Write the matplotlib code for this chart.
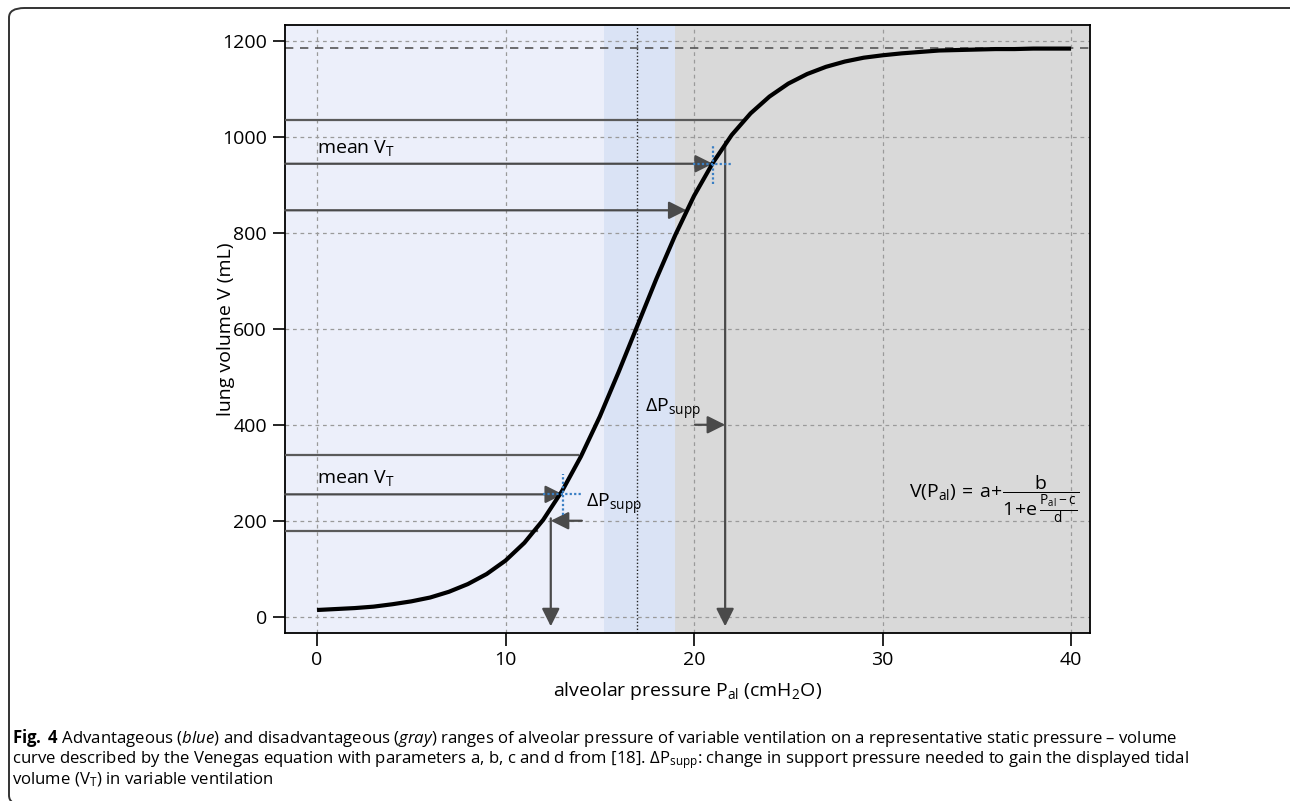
import matplotlib.pyplot as plt
from matplotlib.patches import FancyBboxPatch

plt.rcParams['font.family'] = ['Open Sans', 'DejaVu Sans']
plt.rcParams['mathtext.fontset'] = 'custom'
plt.rcParams['mathtext.rm'] = 'Open Sans'
plt.rcParams['mathtext.it'] = 'Open Sans:italic'
plt.rcParams['mathtext.bf'] = 'Open Sans:bold'

# pressure-volume curve
pressure = list(range(41))
volume = [14, 16, 18, 21, 26, 32, 40, 52, 68, 89, 117, 154, 202, 262, 334, 417,
          510, 607, 704, 795, 877, 946, 1004, 1049, 1084, 1111, 1131, 1146, 1157,
          1165, 1170, 1174, 1177, 1180, 1181, 1182, 1183, 1183, 1184, 1184, 1184]

plateau = 1185
p_optimal = 17
blue_range = (15.2, 19.0)

# lower (advantageous) example
low_lines = [(178, 11.65), (337, 13.85)]
low_mean = (13.05, 255)
low_dp = (14.05, 12.4, 200)
low_drop = (12.4, 205)

# upper (disadvantageous) example
up_lines = [(1035, 22.6)]
up_arrows = [(944, 21.0), (847, 19.6)]
up_mean = (21.0, 944)
up_dp = (20.05, 21.65, 400)
up_drop = (21.65, 990)

xmin, xmax = -1.7, 41.0
ymin, ymax = -34, 1233

fig = plt.figure(figsize=(12.9, 8.01), dpi=100)
ax = fig.add_axes([0.2209, 0.2097, 0.624, 0.759])

ax.axvspan(xmin, blue_range[0], color='#ECEFFA', zorder=0, lw=0)
ax.axvspan(blue_range[0], blue_range[1], color='#DAE3F5', zorder=0, lw=0)
ax.axvspan(blue_range[1], xmax, color='#D9D9D9', zorder=0, lw=0)

for gx in [0, 10, 20, 30, 40]:
    ax.axvline(gx, color='#9A9A9A', lw=0.9, ls=(0, (3, 3)), zorder=1)
for gy in range(0, 1201, 200):
    ax.axhline(gy, color='#9A9A9A', lw=0.9, ls=(0, (3, 3)), zorder=1)

ax.axhline(plateau, color='#555555', lw=1.2, ls=(0, (5, 4)), zorder=2)
ax.axvline(p_optimal, color='#222222', lw=1.0, ls=(0, (1, 1.5)), zorder=2)

line_c = '#5A5A5A'
arrow_kw = dict(arrowstyle='-|>,head_length=0.9,head_width=0.45', color='#4A4A4A',
                lw=1.6, shrinkA=0, shrinkB=0, mutation_scale=12)

for v, p in low_lines + up_lines:
    ax.plot([xmin, p], [v, v], color=line_c, lw=1.6, zorder=3)

for v, p in [(low_mean[1], low_mean[0])] + up_arrows:
    ax.annotate('', xy=(p, v), xytext=(xmin, v), arrowprops=arrow_kw, zorder=3)

# blue crosshairs at mean tidal volume
for (cp, cv) in [low_mean, up_mean]:
    ax.plot([cp - 1.05, cp + 1.05], [cv, cv], color='#3A7FC4', lw=1.6,
            ls=(0, (1, 1)), zorder=5)
    ax.plot([cp, cp], [cv - 42, cv + 42], color='#3A7FC4', lw=1.6,
            ls=(0, (1, 1)), zorder=5)

# delta P arrows and drops to the x axis
ax.annotate('', xy=(low_dp[1], low_dp[2]), xytext=(low_dp[0], low_dp[2]),
            arrowprops=arrow_kw, zorder=3)
ax.annotate('', xy=(low_drop[0], -20), xytext=(low_drop[0], low_drop[1]),
            arrowprops=arrow_kw, zorder=3)
ax.annotate('', xy=(up_dp[1], up_dp[2]), xytext=(up_dp[0], up_dp[2]),
            arrowprops=arrow_kw, zorder=3)
ax.annotate('', xy=(up_drop[0], -20), xytext=(up_drop[0], up_drop[1]),
            arrowprops=arrow_kw, zorder=3)

ax.plot(pressure, volume, color='black', lw=3, zorder=4, solid_capstyle='butt')

fs = 14
ax.text(0, 957, r'mean V$_{\mathrm{T}}$', fontsize=fs, ha='left', va='bottom')
ax.text(0, 268, r'mean V$_{\mathrm{T}}$', fontsize=fs, ha='left', va='bottom')
ax.text(14.27, 208, r'$\Delta$P$_{\mathrm{supp}}$', fontsize=fs, ha='left', va='bottom')
ax.text(17.4, 405, r'$\Delta$P$_{\mathrm{supp}}$', fontsize=fs, ha='left', va='bottom')
ax.text(31.4, 245,
        r'$\mathrm{V(P_{al})\,=\,a\!+\!\dfrac{b}{1\!+\!e\,\frac{P_{al}-c}{d}}}$',
        fontsize=fs, ha='left', va='center')

ax.set_xlim(xmin, xmax)
ax.set_ylim(ymin, ymax)
ax.set_xticks([0, 10, 20, 30, 40])
ax.set_yticks(range(0, 1201, 200))
ax.tick_params(direction='out', length=9, width=1.2, labelsize=14, pad=4)
for s in ax.spines.values():
    s.set_linewidth(1.3)
ax.set_xlabel(r'alveolar pressure P$_{\mathrm{al}}$ (cmH$_2$O)', fontsize=14, labelpad=8)
ax.set_ylabel('lung volume V (mL)', fontsize=14)
ax.yaxis.set_label_coords(-0.062, 0.5)

# page frame
frame = FancyBboxPatch((9 / 1290, -4 / 801), 1.1, 1 - 4 / 801,
                       boxstyle='round,pad=0,rounding_size=0.012',
                       transform=fig.transFigure, fill=False, ec='#333333', lw=1.4)
fig.patches.append(frame)

caption = (r'$\mathbf{Fig.}$ $\mathbf{4}$ Advantageous ($\mathit{blue}$) and disadvantageous ($\mathit{gray}$) '
           'ranges of alveolar pressure of variable ventilation on a representative static pressure \u2013 volume\n'
           r'curve described by the Venegas equation with parameters a, b, c and d from [18]. '
           r'$\Delta$P$_{\mathrm{supp}}$: change in support pressure needed to gain the displayed tidal' '\n'
           r'volume (V$_{\mathrm{T}}$) in variable ventilation')
fig.text(12 / 1290, 1 - 727 / 801, caption, fontsize=12.1, va='top', ha='left',
         linespacing=1.0)

plt.savefig('out.png', dpi=100)
